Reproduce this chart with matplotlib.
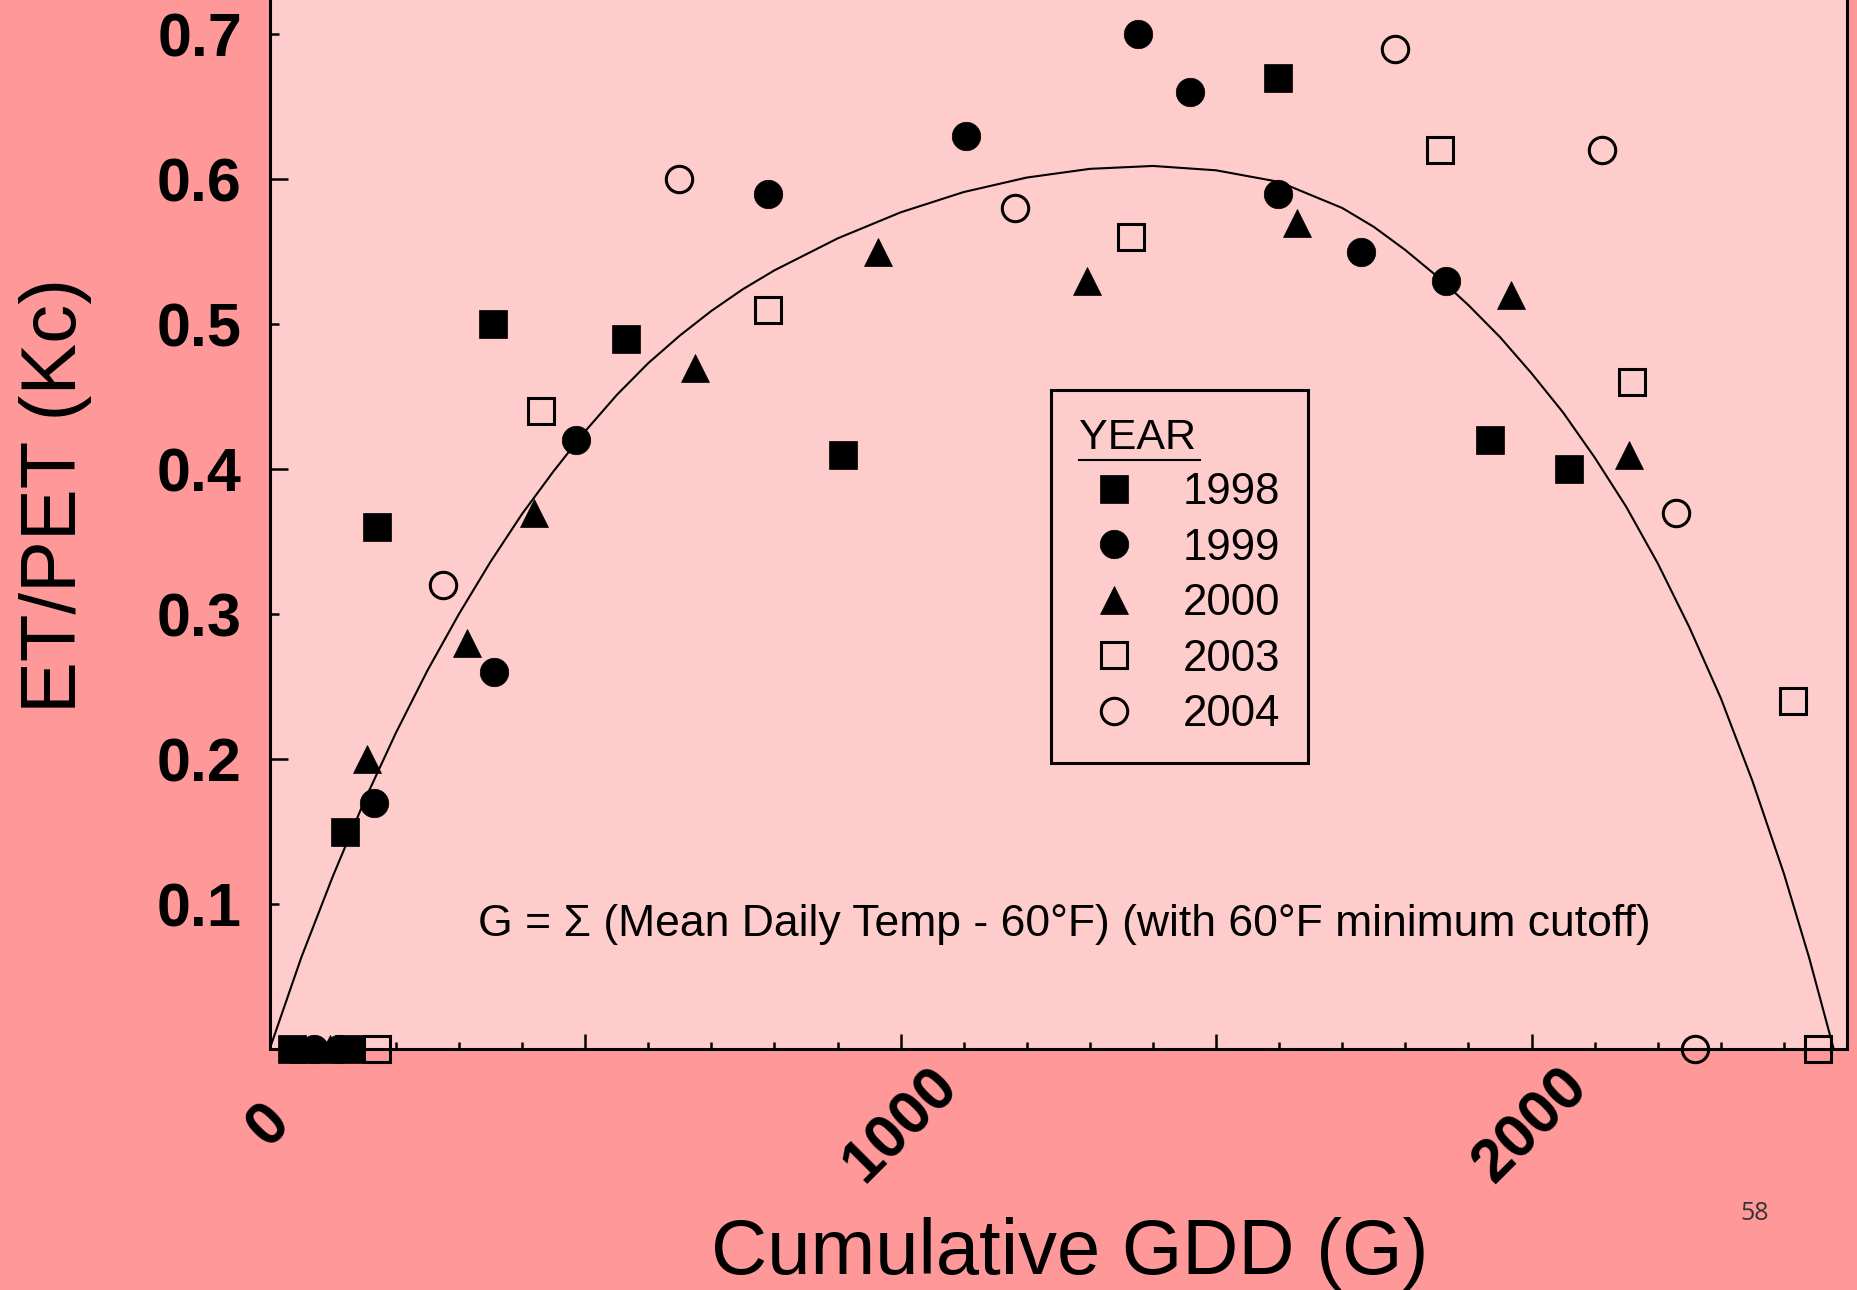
"""
Crop coefficient (ET/PET) against cumulative growing degree days
"""

import matplotlib

matplotlib.use("Agg")  # Non-interactive backend
import matplotlib.pyplot as plt
from matplotlib.lines import Line2D

plt.rcParams["font.family"] = ["Liberation Sans", "DejaVu Sans"]

# ============================================
# Data
# ============================================
gdd_1998 = [36, 125, 120, 170, 354, 565, 908, 1598, 1934, 2060]
kc_1998 = [0.0, 0.0, 0.15, 0.36, 0.50, 0.49, 0.41, 0.67, 0.42, 0.40]

gdd_1999 = [70, 110, 165, 355, 485, 790, 1104, 1376, 1459, 1598, 1729, 1864]
kc_1999 = [0.0, 0.0, 0.17, 0.26, 0.42, 0.59, 0.63, 0.70, 0.66, 0.59, 0.55, 0.53]

gdd_2000 = [55, 95, 154, 313, 419, 674, 964, 1295, 1629, 1968, 2154]
kc_2000 = [0.0, 0.0, 0.20, 0.28, 0.37, 0.47, 0.55, 0.53, 0.57, 0.52, 0.41]

gdd_2003 = [170, 430, 790, 1365, 1855, 2159, 2414, 2454]
kc_2003 = [0.0, 0.44, 0.51, 0.56, 0.62, 0.46, 0.24, 0.0]

gdd_2004 = [274, 649, 1181, 1784, 2112, 2229, 2259]
kc_2004 = [0.32, 0.60, 0.58, 0.69, 0.62, 0.37, 0.0]

# fitted curve
gdd_fit = [0, 50, 100, 150, 200, 250, 300, 350, 400, 450, 500, 550, 600, 650,
           700, 750, 800, 850, 900, 950, 1000, 1100, 1200, 1300, 1400, 1500,
           1600, 1700, 1750, 1800, 1850, 1900, 1950, 2000, 2050, 2100, 2150,
           2200, 2250, 2300, 2350, 2400, 2440, 2479]
kc_fit = [0.0, 0.063, 0.119, 0.171, 0.218, 0.261, 0.300, 0.336, 0.369, 0.3985,
          0.426, 0.451, 0.473, 0.492, 0.509, 0.524, 0.537, 0.548, 0.559, 0.568,
          0.577, 0.591, 0.601, 0.607, 0.609, 0.606, 0.598, 0.580, 0.567, 0.551,
          0.533, 0.513, 0.491, 0.466, 0.439, 0.408, 0.374, 0.335, 0.291, 0.242,
          0.185, 0.121, 0.063, 0.0]

x_tick_pos = [0, 500, 1000, 1500, 2000]
x_tick_labels = ["0", "", "1000", "", "2000"]
x_minor_pos = [v for v in range(100, 2500, 100) if v % 500 != 0]
y_major_pos = [0.2, 0.4, 0.6]
y_minor_pos = [0.1, 0.3, 0.5, 0.7]

OUTER = "#ff9999"
INNER = "#ffcccc"

# ============================================
# Figure
# ============================================
fig = plt.figure(figsize=(18.58, 12.90), dpi=100, facecolor=OUTER)
ax = fig.add_axes([0.14515, 0.18682, 0.84892, 0.81318], facecolor=INNER)

ax.plot(gdd_fit, kc_fit, color="black", linewidth=1.5, zorder=2,
        solid_joinstyle="round")

filled = dict(linestyle="none", color="black", markersize=20.5,
              markeredgewidth=0.5, clip_on=False, zorder=3)
hollow = dict(linestyle="none", color="black", markersize=19,
              markerfacecolor="none", markeredgewidth=2.2, clip_on=False, zorder=3)

ax.plot(gdd_1998, kc_1998, marker="s", label="1998", **filled)
ax.plot(gdd_1999, kc_1999, marker="o", label="1999", **filled)
ax.plot(gdd_2000, kc_2000, marker="^", label="2000", **filled)
ax.plot(gdd_2003, kc_2003, marker="s", label="2003", **hollow)
ax.plot(gdd_2004, kc_2004, marker="o", label="2004", **hollow)

ax.set_xlim(0, 2500)
ax.set_ylim(0, 1049 / 1450)

for side in ["left", "bottom", "right"]:
    ax.spines[side].set_linewidth(2.2)
ax.spines["top"].set_visible(False)

ax.tick_params(axis="both", which="both", direction="in", width=1.8,
               colors="black")
ax.tick_params(axis="x", which="major", length=11, pad=55)
ax.tick_params(axis="x", which="minor", length=5)
ax.tick_params(axis="y", which="major", length=13, pad=20)
ax.tick_params(axis="y", which="minor", length=6.5, pad=20)

ax.set_xticks(x_tick_pos, labels=x_tick_labels, fontsize=44, fontweight="bold",
              rotation=45, ha="center", va="center", rotation_mode="anchor")
ax.set_xticks(x_minor_pos, minor=True)
ax.set_yticks(y_major_pos, labels=[f"{v:.1f}" for v in y_major_pos],
              fontsize=44, fontweight="bold")
ax.set_yticks(y_minor_pos, labels=[f"{v:.1f}" for v in y_minor_pos],
              minor=True, fontsize=44, fontweight="bold")

ax.set_xlabel("Cumulative GDD (G)", fontsize=56, va="baseline")
ax.xaxis.set_label_coords(0.507, -0.2145)
ax.set_ylabel("ET/PET (Kc)", fontsize=56, va="baseline")
ax.yaxis.set_label_coords(-0.1228, 0.528)

ax.text(0.504, 0.1077,
        "G = \u03a3 (Mean Daily Temp - 60\u00b0F) (with 60\u00b0F minimum cutoff)",
        transform=ax.transAxes, fontsize=32, ha="center", va="baseline")

leg = ax.legend(title="YEAR", loc="upper left", bbox_to_anchor=(0.4953, 0.6282),
                borderaxespad=0, fontsize=31.5, title_fontsize=31, alignment="left",
                borderpad=0.635, handlelength=1.62, handletextpad=0.76,
                labelspacing=0.33, fancybox=False, framealpha=1)
leg.get_frame().set_edgecolor("black")
leg.get_frame().set_linewidth(2.2)
leg.get_frame().set_facecolor(INNER)

# underline the legend title
fig.canvas.draw()
bb = leg.get_title().get_window_extent(fig.canvas.get_renderer())
inv = fig.transFigure.inverted()
(x0, y0), (x1, _) = inv.transform([(bb.x0, bb.y0 - 2), (bb.x1 + 4, bb.y0 - 2)])
fig.add_artist(Line2D([x0, x1], [y0, y0], color="black", linewidth=1.5,
                      transform=fig.transFigure))

fig.text(1755 / 1858, 1 - 1214 / 1290, "58", fontsize=18, family="Open Sans",
         color="#333333", ha="center", va="center")

fig.savefig("out.png", dpi=100, facecolor=fig.get_facecolor())
